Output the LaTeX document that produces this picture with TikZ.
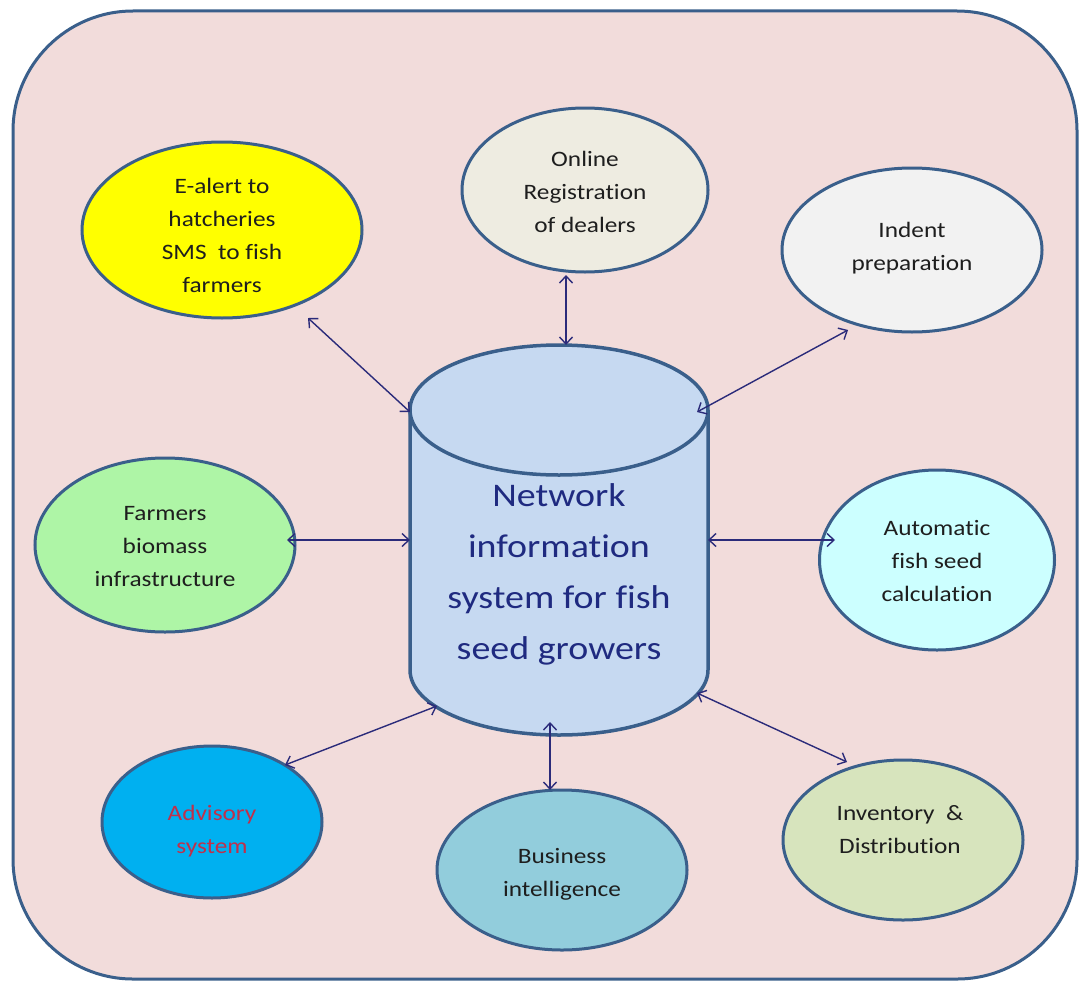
\documentclass[tikz,border=0pt]{standalone}
\usepackage{fontspec}
\setmainfont{Carlito}
\newfontfamily\diagfont[FakeStretch=1.15, Ligatures=NoCommon]{Carlito}
\usetikzlibrary{shapes.geometric,arrows.meta}
\definecolor{bgpink}{HTML}{F2DCDB}
\definecolor{edge}{HTML}{3A5F8B}
\definecolor{cylfill}{HTML}{C6D9F1}
\definecolor{arrowc}{HTML}{2B2B7A}
\definecolor{cyltext}{HTML}{1F2A80}
\definecolor{bodytext}{HTML}{1E1E1E}
\definecolor{advtext}{HTML}{C0304A}
\definecolor{cYellow}{HTML}{FFFF00}
\definecolor{cOnline}{HTML}{EEECE1}
\definecolor{cIndent}{HTML}{F2F2F2}
\definecolor{cFarm}{HTML}{AEF5A6}
\definecolor{cAuto}{HTML}{CCFFFF}
\definecolor{cAdv}{HTML}{00B0F0}
\definecolor{cBus}{HTML}{92CDDC}
\definecolor{cInv}{HTML}{D7E4BD}
\tikzset{
  ell/.style={ellipse, draw=edge, line width=3pt, inner sep=0pt},
  txt/.style={align=center, text=bodytext, font=\diagfont\fontsize{22}{33}\selectfont, inner sep=0pt},
  link/.style={arrowc, line width=1.4pt, {Straight Barb[length=7pt,width=13pt,line width=1.4pt]}-{Straight Barb[length=7pt,width=13pt,line width=1.4pt]}}
}
\begin{document}
\begin{tikzpicture}[x=1pt,y=1pt]
\useasboundingbox (0,0) rectangle (1081,-982);
% outer frame
\draw[edge, fill=bgpink, line width=3pt, rounded corners=120pt] (13,-11) rectangle (1077,-979);
% cylinder
\path[fill=cylfill, draw=edge, line width=3.5pt] (410,-410) -- (410,-670)
  arc[start angle=180, end angle=360, x radius=149, y radius=65] -- (708,-410);
\draw[edge, fill=cylfill, line width=3.5pt] (559,-410) ellipse[x radius=149, y radius=65];
\node[align=center, text=cyltext, font=\diagfont\fontsize{33}{51}\selectfont, inner sep=0pt] (cyl) at (559,-574)
  {Network\\information\\system for fish\\seed growers};
% ellipses
\node[ell, fill=cYellow, minimum width=280, minimum height=176] (ealert) at (222,-230) {};
\node[txt] (ealertT) at (222,-235) {E-alert to\\hatcheries\\SMS~~to fish\\farmers};
\node[ell, fill=cOnline, minimum width=246, minimum height=164] (online) at (585,-190) {};
\node[txt] (onlineT) at (585,-192) {Online\\Registration\\of dealers};
\node[ell, fill=cIndent, minimum width=260, minimum height=164] (indent) at (912,-250) {};
\node[txt] (indentT) at (912,-248) {Indent\\preparation};
\node[ell, fill=cFarm, minimum width=260, minimum height=174] (farm) at (165,-545) {};
\node[txt] (farmT) at (165,-547) {Farmers\\biomass\\infrastructure};
\node[ell, fill=cAuto, minimum width=235, minimum height=180] (auto) at (937,-560) {};
\node[txt] (autoT) at (937,-561) {Automatic\\fish seed\\calculation};
\node[ell, fill=cAdv, minimum width=220, minimum height=152] (adv) at (212,-822) {};
\node[txt, text=advtext] (advT) at (212,-831) {Advisory\\system};
\node[ell, fill=cBus, minimum width=250, minimum height=160] (bus) at (562,-870) {};
\node[txt] (busT) at (562,-874) {Business\\intelligence};
\node[ell, fill=cInv, minimum width=240, minimum height=160] (inv) at (903,-840) {};
\node[txt] (invT) at (900,-830) {Inventory~~\&\\Distribution};
% arrow end points
\coordinate (a1) at (308,-318); \coordinate (b1) at (410,-412);
\coordinate (a2) at (566,-275); \coordinate (b2) at (566,-345);
\coordinate (a3) at (848,-330); \coordinate (b3) at (697,-412);
\coordinate (a4) at (287,-540); \coordinate (b4) at (410,-540);
\coordinate (a5) at (835,-540); \coordinate (b5) at (708,-540);
\coordinate (a6) at (285,-765); \coordinate (b6) at (437,-706);
\coordinate (a7) at (550,-790); \coordinate (b7) at (550,-722);
\coordinate (a8) at (847,-762); \coordinate (b8) at (697,-693);
\foreach \i in {1,...,8} {\draw[link] (a\i) -- (b\i);}
\end{tikzpicture}
\end{document}
